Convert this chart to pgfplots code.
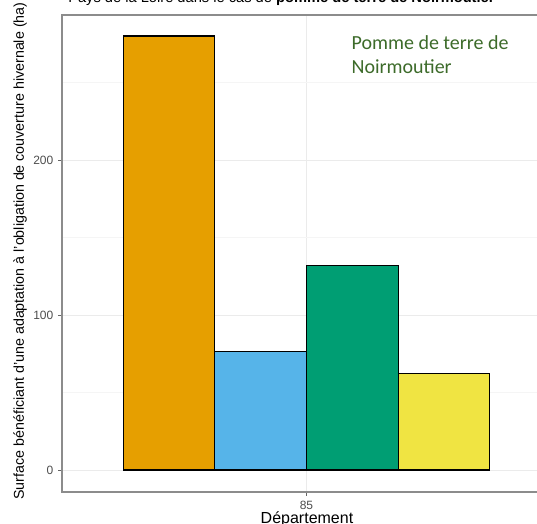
\documentclass[border=0pt]{standalone}
\usepackage{pgfplots}
\pgfplotsset{compat=1.18}
\usepackage{fontspec}
\setmainfont{Liberation Sans}
\newfontfamily\calib{Carlito}
\definecolor{cOrange}{HTML}{E69F00}
\definecolor{cBlue}{HTML}{56B4E9}
\definecolor{cGreen}{HTML}{009E73}
\definecolor{cYellow}{HTML}{F0E442}
\definecolor{annot}{HTML}{3D6B2A}
\definecolor{tickgray}{HTML}{4D4D4D}
\begin{document}
\begin{tikzpicture}
\path[use as bounding box, clip] (0,0) rectangle (402.75pt,393pt);
\node[anchor=base west, inner sep=0pt, font=\fontsize{11pt}{12pt}\selectfont] at (51pt,391.3pt) {Pays de la Loire dans le cas de \textbf{pomme de terre de Noirmoutier}};
\begin{axis}[
  at={(46.5pt,24pt)}, anchor=south west,
  scale only axis, width=366.75pt, height=357.75pt,
  xmin=0.4, xmax=1.6, ymin=-14.2, ymax=293.5,
  xtick={1}, xticklabels={85},
  ytick={0,100,200}, minor ytick={50,150,250},
  grid=both,
  major grid style={draw=black!8, line width=0.6pt},
  minor grid style={draw=black!4, line width=0.5pt},
  axis line style={draw=black!45, line width=1pt},
  tick align=outside, tick pos=left,
  major tick length=3pt, minor tick length=0pt,
  tick style={draw=black!60, line width=0.6pt},
  ticklabel style={font=\fontsize{9pt}{10pt}\selectfont, text=tickgray},
  /pgf/number format/assume math mode=true,
  xlabel={Département},
  ylabel={Surface bénéficiant d'une adaptation à l'obligation de couverture hivernale (ha)},
  xlabel style={font=\fontsize{12pt}{13pt}\selectfont, at={(axis description cs:0.501,-0.058)}, anchor=center},
  ylabel style={font=\fontsize{10.7pt}{12pt}\selectfont, at={(axis description cs:-0.0859,0.505)}, anchor=center, rotate=0},
  every axis plot/.append style={ybar, bar width=0.225, bar shift=0pt, draw=black, line width=0.9pt},
  clip=false,
]
\addplot[fill=cOrange] coordinates {(0.6625,280)};
\addplot[fill=cBlue] coordinates {(0.8875,76.5)};
\addplot[fill=cGreen] coordinates {(1.1125,132)};
\addplot[fill=cYellow] coordinates {(1.3375,62.2)};
\node[anchor=north west, align=left, inner sep=0pt, text=annot, font=\calib\fontsize{15pt}{18.5pt}\selectfont] at (axis cs:1.11,280.5) {Pomme de terre de\\Noirmoutier};
\end{axis}
\end{tikzpicture}
\end{document}
